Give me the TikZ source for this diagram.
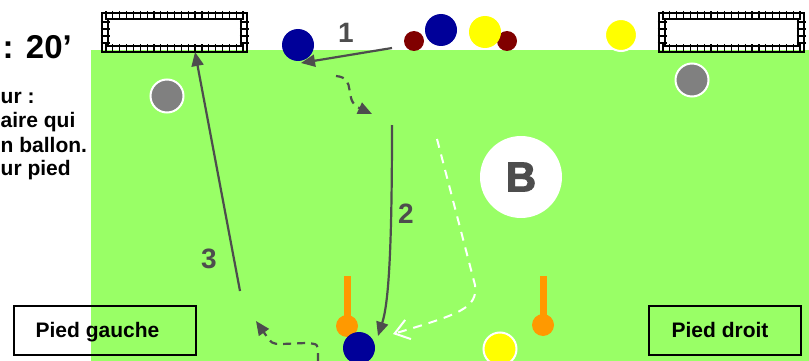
\documentclass[tikz,border=0pt]{standalone}
\usepackage{fontspec}
\setmainfont{Liberation Sans}
\newfontfamily\heavyB[BoldFont={Liberation Sans Bold},BoldFeatures={FakeBold=2.5}]{Liberation Sans}
\usetikzlibrary{arrows.meta}
\definecolor{field}{RGB}{153,255,102}
\definecolor{ink}{RGB}{77,77,77}
\definecolor{navy}{RGB}{0,0,153}
\definecolor{maroonp}{RGB}{128,0,0}
\definecolor{grayp}{RGB}{128,128,128}
\definecolor{orng}{RGB}{255,153,0}
\definecolor{yel}{RGB}{255,255,0}
\newcommand\drawgoal[1]{%
  \draw[line width=1.4pt] (#1,13) rectangle ++(145,39);
  \draw[line width=1.4pt] ({#1+6},19) rectangle ({#1+139},46);
  \foreach \i in {0,...,20} {
    \draw[line width=1.2pt] ({#1+4+\i*6.85},11.5) -- ++(0,9);
    \draw[line width=1.2pt] ({#1+4+\i*6.85},44.5) -- ++(0,9);
  }
  \foreach \j in {0,...,3} {
    \draw[line width=1.2pt] ({#1-1.5},{22+\j*7}) -- ++(9,0);
    \draw[line width=1.2pt] ({#1+137.5},{22+\j*7}) -- ++(9,0);
  }%
}
\begin{document}
\begin{tikzpicture}[x=1pt,y=-1pt,
  player/.style={circle,inner sep=0pt,minimum size=32pt},
  ringed/.style={player,draw=white,line width=2pt},
  smallp/.style={circle,inner sep=0pt,minimum size=20pt,fill=maroonp},
  cone/.style={circle,inner sep=0pt,minimum size=22pt,fill=orng},
  solidarrow/.style={draw=ink,line width=2.2pt,-{Triangle[length=14pt,width=12pt]}},
  dasharrow/.style={draw=ink,line width=2.2pt,dash pattern=on 8pt off 6pt,-{Triangle[length=14pt,width=12pt]}},
  whitearrow/.style={draw=white,line width=2pt,dash pattern=on 9pt off 7pt,-{Straight Barb[length=14pt,width=20pt]}},
  numlbl/.style={text=ink,font=\fontsize{28}{28}\selectfont\bfseries,inner sep=0pt},
  boxlbl/.style={draw=black,line width=2pt,inner sep=0pt,minimum height=49pt},
  boxtxt/.style={anchor=base,inner sep=0pt,font=\fontsize{21}{21}\selectfont\bfseries},
  sidetxt/.style={anchor=base west,inner sep=0pt,font=\fontsize{21}{21}\selectfont\bfseries}
]
\useasboundingbox (0,0) rectangle (809,361);
\fill[field] (91,50) rectangle (809,361);

% goals
\drawgoal{102}
\drawgoal{659}

% side text
\node[anchor=base east,inner sep=0pt,font=\fontsize{33}{33}\selectfont\bfseries] (dur) at (72,59) {: 20’};
\node[sidetxt] (t1) at (0.5,103) {ur :};
\node[sidetxt] (t2) at (0.5,128) {aire qui};
\node[sidetxt] (t3) at (0.5,152) {n ballon.};
\node[sidetxt] (t4) at (0.5,175) {ur pied};

% grey players
\node[ringed,fill=grayp,minimum size=33pt] (g1) at (167,96) {};
\node[ringed,fill=grayp,minimum size=33pt] (g2) at (692,80) {};

% top players
\node[player,fill=navy] (b1) at (298,45) {};
\node[player,fill=navy] (b2) at (441,30) {};
\node[smallp] (r1) at (414,41) {};
\node[smallp] (r2) at (507,41) {};
\node[player,fill=yel] (y1) at (485,32) {};
\node[ringed,fill=yel] (y2) at (621,35) {};

% ball zone
\node[circle,fill=white,minimum size=82pt,inner sep=0pt,text=ink,font=\heavyB\fontsize{42}{42}\selectfont\bfseries] (bz) at (521,177) {B};

% cones
\fill[orng] (343.5,276) rectangle (350.5,326);
\node[cone] (c1) at (347,326) {};
\fill[orng] (539.5,276) rectangle (546.5,325);
\node[cone] (c2) at (543,325) {};

% bottom players
\node[player,fill=navy] (b3) at (359,348) {};
\node[ringed,fill=yel,minimum size=33pt] (y3) at (500,349) {};

% label boxes
\node[boxlbl,minimum width=182pt] (pgbox) at (105,330.5) {};
\node[boxtxt] (pgtxt) at (97.5,337) {Pied gauche};
\node[boxlbl,minimum width=152pt] (pdbox) at (725,330.5) {};
\node[boxtxt] (pdtxt) at (720,337) {Pied droit};

% arrow coordinates
\coordinate (a1s) at (392,48);
\coordinate (a1e) at (301,63);
\coordinate (d1s) at (336,76);
\coordinate (d1e) at (372,114);
\coordinate (a2s) at (392,125);
\coordinate (a2e) at (378,336);
\coordinate (w1s) at (437,139);
\coordinate (w1m) at (475,285);
\coordinate (w1e) at (393,334);
\coordinate (a3s) at (240,291);
\coordinate (a3e) at (195,52);
\coordinate (d3s) at (318,361);
\coordinate (d3e) at (256,321);

\draw[solidarrow] (a1s) -- (a1e);
\draw[dasharrow] (d1s) .. controls (358,78) and (342,100) .. (d1e);
\draw[solidarrow] (a2s) .. controls (392,260) and (388,305) .. (a2e);
\draw[whitearrow] (w1s) -- (w1m) .. controls (478,308) and (460,314) .. (w1e);
\draw[solidarrow] (a3s) -- (a3e);
\draw[dasharrow] (d3s) -- (318,353) .. controls (318,344) .. (306,343) -- (282,344) .. controls (272,344) .. (d3e);

% numbers
\node[numlbl] (n1) at (346,33) {1};
\node[numlbl] (n2) at (406,214) {2};
\node[numlbl] (n3) at (209,259) {3};
\end{tikzpicture}
\end{document}
